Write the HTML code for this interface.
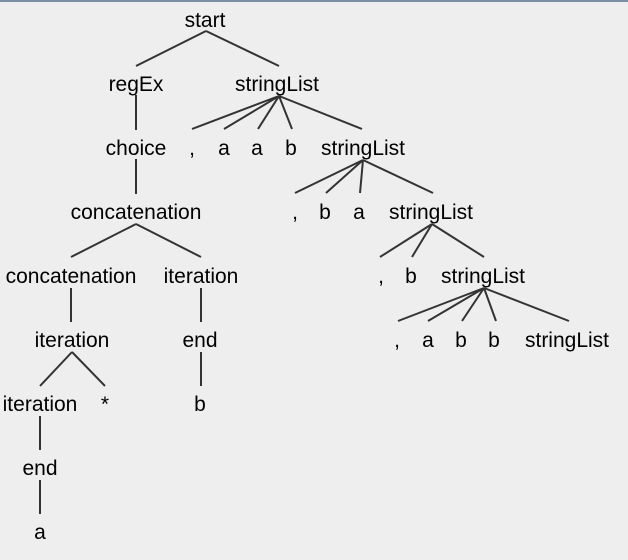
<!DOCTYPE html>
<html><head><style>html,body{margin:0;padding:0;background:#eeeeee}svg{display:block}</style></head>
<body>
<svg width="628" height="560" xmlns="http://www.w3.org/2000/svg">
<rect width="628" height="560" fill="#eeeeee"/>
<rect width="628" height="2" fill="#7d8ea3"/>
<g stroke="#333" stroke-width="2" fill="none">
<path d="M206 31L136 66M206 31L279 66"/>
<path d="M136 95V130M136 159V194"/>
<path d="M279 96L192 129M279 96L224 129M279 96L258 129M279 96L292 129M279 96L362 129"/>
<path d="M363 160L295 193M363 160L326 193M363 160L360 193M363 160L433 193"/>
<path d="M432 224L380 257M432 224L412 257M432 224L484 257"/>
<path d="M484 288L398 321M484 288L428 321M484 288L462 321M484 288L496 321M484 288L569 321"/>
<path d="M136 224L71 257M136 224L201 257"/>
<path d="M71 288V322M201 288V322"/>
<path d="M72 352L40 386M72 352L105 386M201 352V386"/>
<path d="M40 416V450M40 480V514"/>
</g>
<g font-family="Liberation Sans, Arial, sans-serif" font-size="21" fill="#000" text-anchor="middle">
<text x="205" y="27">start</text>
<text x="136" y="91">regEx</text><text x="277" y="91">stringList</text>
<text x="136" y="155">choice</text><text x="192" y="155">,</text><text x="224" y="155">a</text><text x="257" y="155">a</text><text x="291" y="155">b</text><text x="363" y="155">stringList</text>
<text x="136" y="219">concatenation</text><text x="295" y="219">,</text><text x="325" y="219">b</text><text x="359" y="219">a</text><text x="431" y="219">stringList</text>
<text x="71" y="283">concatenation</text><text x="201" y="283">iteration</text><text x="381" y="283">,</text><text x="411" y="283">b</text><text x="483" y="283">stringList</text>
<text x="72" y="347">iteration</text><text x="200" y="347">end</text><text x="397" y="347">,</text><text x="428" y="347">a</text><text x="461" y="347">b</text><text x="494" y="347">b</text><text x="567" y="347">stringList</text>
<text x="40" y="411">iteration</text><text x="105" y="411">*</text><text x="200" y="411">b</text>
<text x="40" y="475">end</text>
<text x="40" y="539">a</text>
</g>
</svg>
</body></html>
